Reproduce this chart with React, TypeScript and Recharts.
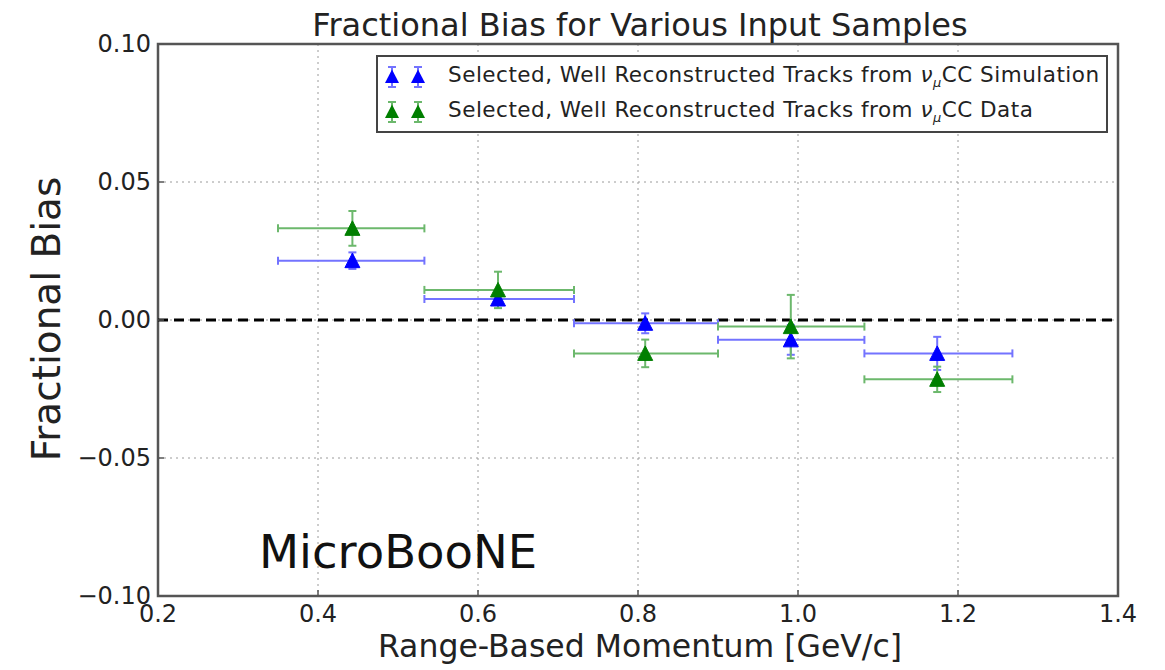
import React from "react";
import {
  ScatterChart, Scatter, XAxis, YAxis, CartesianGrid, ReferenceLine, ReferenceArea, ErrorBar, Legend,
} from "recharts";

// momentum bins (GeV/c) and the bin centres where the points sit
const binEdges = [0.35, 0.533, 0.72, 0.9, 1.083, 1.268];
const momentum = [0.443, 0.625, 0.809, 0.991, 1.174];

// fractional bias, simulation sample
const simBias = [0.0215, 0.0076, -0.0012, -0.0072, -0.0121];
const simErr = [0.003, 0.002, 0.0036, 0.0054, 0.006];

// fractional bias, data sample
const dataBias = [0.0332, 0.0109, -0.0121, -0.0024, -0.0215];
const dataErr = [0.0063, 0.0066, 0.005, 0.0115, 0.0046];

const xTicks = [0.2, 0.4, 0.6, 0.8, 1.0, 1.2, 1.4];
const yTicks = [-0.1, -0.05, 0, 0.05, 0.1];

const FONT = "DejaVu Sans";
const W = 1165;
const H = 670;

const BLUE = "#0000ff";
const BLUE_ERR = "#7373ff";
const GREEN = "#007f00";
const GREEN_ERR = "#6cb86c";
const FRAME = "#555";

const rows = (vals: number[], errs: number[]) =>
  momentum.map((x, i) => ({
    x,
    y: vals[i],
    xErr: [x - binEdges[i], binEdges[i + 1] - x],
    yErr: errs[i],
  }));

const simRows = rows(simBias, simErr);
const dataRows = rows(dataBias, dataErr);

const triangle = (fill: string) => (props: any) => {
  const { cx, cy } = props;
  if (cx == null || cy == null) return <g />;
  return (
    <polygon
      points={`${cx},${cy - 7.5} ${cx - 7.5},${cy + 7} ${cx + 7.5},${cy + 7}`}
      fill={fill}
      stroke={fill}
      strokeWidth={1}
    />
  );
};

// tick marks point into the plot, matplotlib-classic style
const XTick = ({ x, y, payload }: any) => (
  <g>
    <line x1={x} y1={y} x2={x} y2={y - 6} stroke={FRAME} strokeWidth={1.5} />
    <text x={x} y={y + 18} textAnchor="middle" dominantBaseline="central"
      fontFamily={FONT} fontSize={24} fill="#222">
      {Number(payload.value).toFixed(1)}
    </text>
  </g>
);

const TopTick = ({ x, y }: any) => (
  <line x1={x} y1={y} x2={x} y2={y + 6} stroke={FRAME} strokeWidth={1.5} />
);

const YTick = ({ x, y, payload }: any) => (
  <g>
    <line x1={x} y1={y} x2={x + 6} y2={y} stroke={FRAME} strokeWidth={1.5} />
    <text x={x - 7} y={y} textAnchor="end" dominantBaseline="central"
      fontFamily={FONT} fontSize={24} fill="#222">
      {Number(payload.value).toFixed(2).replace("-", "\u2212")}
    </text>
  </g>
);

const RightTick = ({ x, y }: any) => (
  <line x1={x} y1={y} x2={x - 6} y2={y} stroke={FRAME} strokeWidth={1.5} />
);

const legendItems = [
  { color: BLUE, err: BLUE_ERR, label: "Simulation" },
  { color: GREEN, err: GREEN_ERR, label: "Data" },
];

const LegendMarker = ({ color, err, cx }: { color: string; err: string; cx: number }) => (
  <g>
    <line x1={cx} y1={4} x2={cx} y2={24} stroke={err} strokeWidth={2} />
    <line x1={cx - 4} y1={4} x2={cx + 4} y2={4} stroke={err} strokeWidth={2} />
    <line x1={cx - 4} y1={24} x2={cx + 4} y2={24} stroke={err} strokeWidth={2} />
    <polygon points={`${cx},${6.5} ${cx - 7},${20} ${cx + 7},${20}`} fill={color} />
  </g>
);

const LegendBox = () => (
  <div
    style={{
      width: 732, height: 78, boxSizing: "border-box", border: "2px solid #444",
      background: "#fff", fontFamily: FONT, fontSize: 21.5, letterSpacing: 0.5, color: "#222",
      paddingTop: 2,
    }}
  >
    {legendItems.map((it) => (
      <div key={it.label} style={{ display: "flex", alignItems: "center", height: 35 }}>
        <svg width={70} height={28} style={{ flex: "none" }}>
          <LegendMarker color={it.color} err={it.err} cx={14} />
          <LegendMarker color={it.color} err={it.err} cx={40} />
        </svg>
        <span style={{ whiteSpace: "nowrap" }}>
          Selected, Well Reconstructed Tracks from <i>ν</i>
          <sub style={{ fontSize: 13, fontStyle: "italic" }}>μ</sub>CC {it.label}
        </span>
      </div>
    ))}
  </div>
);

export default function App() {
  return (
    <div style={{ position: "absolute", left: 0, top: 0, width: W, height: H, background: "#fff" }}>
      <ScatterChart width={W} height={H} margin={{ top: 44, right: 47, bottom: 0, left: 0 }}>
        <CartesianGrid stroke="#9a9a9a" strokeDasharray="2 4" strokeWidth={1} />
        <XAxis
          type="number" dataKey="x" domain={[0.2, 1.4]} ticks={xTicks} allowDataOverflow
          height={74} axisLine={false} tickLine={false} tickSize={0} tickMargin={0} tick={<XTick />}
        />
        <XAxis
          xAxisId="top" orientation="top" type="number" domain={[0.2, 1.4]} ticks={xTicks} allowDataOverflow
          height={0} axisLine={false} tickLine={false} tickSize={0} tickMargin={0} tick={<TopTick />}
        />
        <YAxis
          type="number" dataKey="y" domain={[-0.1, 0.1]} ticks={yTicks} allowDataOverflow
          width={158} axisLine={false} tickLine={false} tickSize={0} tickMargin={0} tick={<YTick />}
        />
        <YAxis
          yAxisId="right" orientation="right" type="number" domain={[-0.1, 0.1]} ticks={yTicks} allowDataOverflow
          width={0} axisLine={false} tickLine={false} tickSize={0} tickMargin={0} tick={<RightTick />}
        />
        <ReferenceLine y={0} stroke="#000" strokeWidth={3} strokeDasharray="10 6" />
        <Scatter data={simRows} fill={BLUE} shape={triangle(BLUE)} isAnimationActive={false}>
          <ErrorBar dataKey="xErr" direction="x" stroke={BLUE_ERR} strokeWidth={2} width={4} />
          <ErrorBar dataKey="yErr" direction="y" stroke={BLUE_ERR} strokeWidth={2} width={4} />
        </Scatter>
        <Scatter data={dataRows} fill={GREEN} shape={triangle(GREEN)} isAnimationActive={false}>
          <ErrorBar dataKey="xErr" direction="x" stroke={GREEN_ERR} strokeWidth={2} width={4} />
          <ErrorBar dataKey="yErr" direction="y" stroke={GREEN_ERR} strokeWidth={2} width={4} />
        </Scatter>
        <ReferenceArea x1={0.2} x2={1.4} y1={-0.1} y2={0.1} fill="none" fillOpacity={0}
          stroke={FRAME} strokeWidth={2.5} ifOverflow="visible" />
        <Legend
          layout="vertical" align="center" verticalAlign="middle"
          content={<LegendBox />}
          wrapperStyle={{ left: 376, top: 55, width: 732, height: 78 }}
        />
      </ScatterChart>
      <svg width={W} height={H} style={{ position: "absolute", left: 0, top: 0, pointerEvents: "none" }}>
        <text x={640} y={36} textAnchor="middle" fontFamily={FONT} fontSize={32} fill="#222">
          Fractional Bias for Various Input Samples
        </text>
        <text x={640} y={657} textAnchor="middle" fontFamily={FONT} fontSize={31.5} fill="#222">
          Range-Based Momentum [GeV/c]
        </text>
        <text x={60} y={319} transform="rotate(-90 60 319)" textAnchor="middle"
          fontFamily={FONT} fontSize={39} fill="#222">
          Fractional Bias
        </text>
        <text x={259} y={568} fontFamily={FONT} fontSize={46.5} fill="#111">
          MicroBooNE
        </text>
      </svg>
    </div>
  );
}
